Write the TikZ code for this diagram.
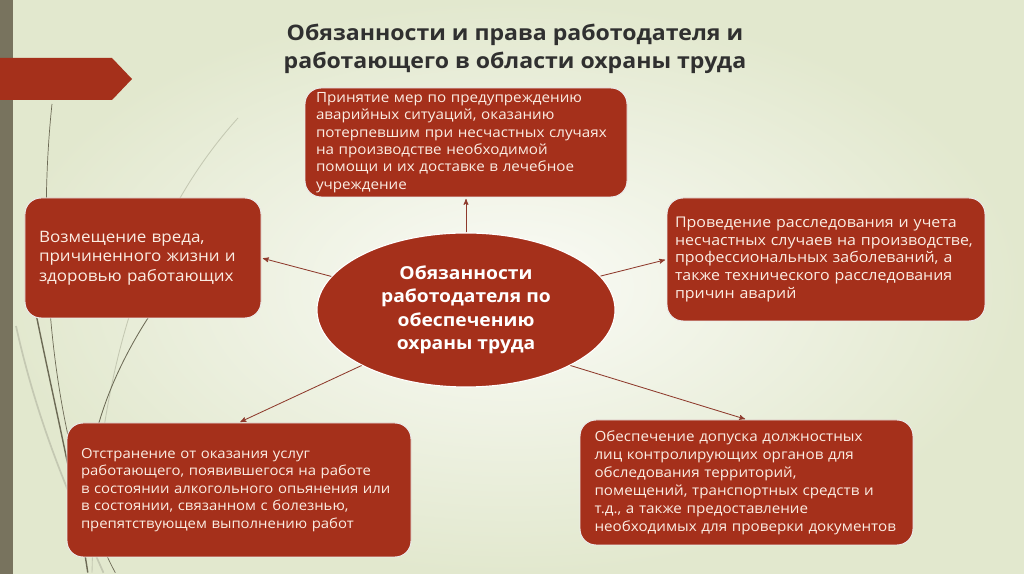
\documentclass[tikz,border=0pt]{standalone}
\usepackage{fontspec}
\setmainfont{Open Sans}[FakeStretch=1.08]
\usetikzlibrary{arrows,positioning,shapes.geometric}

\definecolor{brick}{HTML}{A5301B}
\definecolor{bgout}{HTML}{E2E8CE}
\definecolor{bgin}{HTML}{FAFBF6}
\definecolor{barcol}{HTML}{78735E}
\definecolor{arrowcol}{HTML}{8E3A2C}
\definecolor{titlecol}{HTML}{303030}
\definecolor{boxtext}{HTML}{FBEDE3}
\definecolor{stemdark}{HTML}{6C6A55}
\definecolor{stemlight}{HTML}{C4C8B2}

\begin{document}
\begin{tikzpicture}[>=stealth',shorten >=1pt]
  \useasboundingbox (0,0) rectangle (25.6,14.35);
  % background
  \shade[inner color=bgin,outer color=bgout] (0,0) rectangle (25.6,14.35);
  \fill[barcol] (0,0) rectangle (0.325,14.35);
  \draw[stemlight,line width=1.2pt] (0.4,6.2) .. controls (1.0,3.5) and (1.9,1.6) .. (2.6,0);
  \draw[stemlight,line width=0.6pt] (5.95,11.4) .. controls (3.6,8.8) and (2.4,5.0) .. (2.3,0);
  \draw[stemdark,line width=0.5pt] (1.3,11.75) .. controls (0.9,8.0) and (1.3,3.0) .. (2.9,0);
  \draw[stemdark,line width=1pt] (0.8,7.0) .. controls (1.3,4.5) and (1.9,2.0) .. (2.2,0);
  \draw[stemdark,line width=0.6pt] (3.7,6.4) .. controls (2.8,5.0) and (2.3,3.6) .. (2.2,2.3);

  % tab
  \fill[brick] (0,12.9) -- (2.8,12.9) -- (3.3,12.375) -- (2.8,11.85) -- (0,11.85) -- cycle;

  \tikzset{dutybox/.style={rectangle,rounded corners=0.4cm,fill=brick,draw=white!85!gray,
      line width=0.7pt,text=boxtext,align=left,inner xsep=0.35cm,inner ysep=0pt}}
  \tikzset{mainoval/.style={ellipse,fill=brick,draw=white,line width=0.8pt,text=white,
      align=center,minimum width=7.45cm,minimum height=3.85cm,inner sep=0pt,
      font=\bfseries\fontsize{12.7}{16.7}\selectfont}}

  \node[text=titlecol,align=center,font=\bfseries\fontsize{15.2}{20}\selectfont]
    (title) at (12.875,13.13) {Обязанности и права работодателя и\\работающего в области охраны труда};

  \node[mainoval] (O) at (11.65,6.6) {Обязанности\\работодателя по\\обеспечению\\охраны труда};

  \node[dutybox,minimum width=8.05cm,minimum height=2.725cm,text width=7.5cm,
    font=\fontsize{10}{12.4}\selectfont,inner xsep=0.25cm] (N) at (11.65,10.7875)
    {Принятие мер по предупреждению\\аварийных ситуаций, оказанию\\потерпевшим при несчастных случаях\\на производстве необходимой\\помощи и их доставке в лечебное\\учреждение};
  \node[dutybox,minimum width=5.9cm,minimum height=3.0cm,text width=5.2cm,
    font=\fontsize{11.2}{13.9}\selectfont] (W) at (3.575,7.9)
    {Возмещение вреда,\\причиненного жизни и\\здоровью работающих};
  \node[dutybox,minimum width=7.95cm,minimum height=3.075cm,text width=7.55cm,
    font=\fontsize{10.5}{12.6}\selectfont,inner xsep=0.2cm] (E) at (20.65,7.8625)
    {Проведение расследования и учета\\несчастных случаев на производстве,\\профессиональных заболеваний, а\\также технического расследования\\причин аварий};
  \node[dutybox,minimum width=8.6cm,minimum height=3.35cm,text width=7.9cm,
    font=\fontsize{9.8}{12.4}\selectfont] (SW) at (5.975,2.1)
    {Отстранение от оказания услуг\\работающего, появившегося на работе\\в состоянии алкогольного опьянения или\\в состоянии, связанном с болезнью,\\препятствующем выполнению работ};
  \node[dutybox,minimum width=8.325cm,minimum height=3.125cm,text width=7.6cm,
    font=\fontsize{10}{12.8}\selectfont] (SE) at (18.6625,2.2875)
    {Обеспечение допуска должностных\\лиц контролирующих органов для\\обследования территорий,\\помещений, транспортных средств и\\т.д., а также предоставление\\необходимых для проверки документов};

  \tikzset{myarrow/.style={->,draw=arrowcol,line width=0.6pt}}
  \path (N.south |- O.north) edge [myarrow] (N.south)
    (O.166) edge [myarrow] (W.east)
    (O) edge [myarrow] (E.west)
    (O.208) edge [myarrow] (SW.north)
    (O.332) edge [myarrow] (SE.north);
\end{tikzpicture}
\end{document}
